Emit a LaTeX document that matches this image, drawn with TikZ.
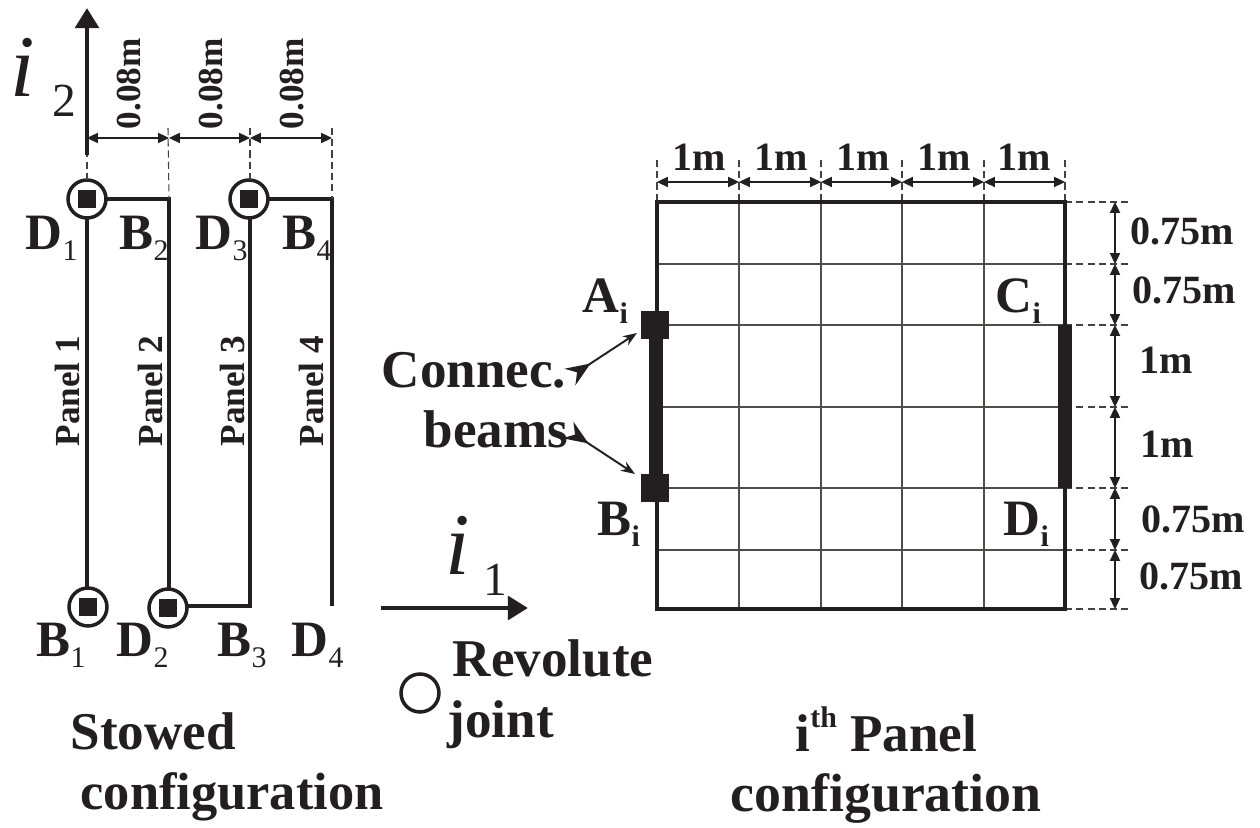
\documentclass[tikz,border=0pt]{standalone}
\usepackage{fontspec}
\setmainfont{Liberation Serif}
\usetikzlibrary{arrows.meta}
\definecolor{ink}{HTML}{231F20}
\newcommand{\sublab}[2]{{\fontsize{14.5}{14.5}\selectfont\bfseries #1}\raisebox{-3.1pt}{\fontsize{8.5}{9}\selectfont #2}}
\tikzset{
	wall/.style={ink,line width=1.2pt},
	gridline/.style={ink!80,line width=.35pt},
	guide/.style={ink!85,line width=.3pt,dash pattern=on 2pt off 1.2pt},
	dim/.style={ink,line width=.35pt,{Triangle[length=3.1pt,width=2.9pt]}-{Triangle[length=3.1pt,width=2.9pt]}},
	axis/.style={ink,line width=1.4pt,-{Triangle[length=5.7pt,width=6.6pt]}},
	callout/.style={ink,line width=.55pt,{Stealth[reversed,length=7pt,width=5.6pt,inset=2.4pt]}-{Stealth[length=4pt,width=3pt]}},
	txt/.style={ink,inner sep=0pt,anchor=base west},
	big/.style={txt,font=\fontsize{15.1}{15.1}\selectfont\bfseries},
	panel/.style={txt,rotate=90,font=\fontsize{10}{10}\selectfont\bfseries},
	gap/.style={txt,rotate=90,font=\fontsize{10}{10}\selectfont\bfseries},
	size/.style={txt,font=\fontsize{11.4}{11.4}\selectfont\bfseries},
	axisname/.style={txt,draw=none,font=\fontsize{25}{25}\selectfont\itshape},
	joint/.style={circle,draw=ink,line width=1pt,minimum size=10.8pt,inner sep=0pt},
	pin/.style={fill=ink,inner sep=0pt,minimum size=#1},
}
\begin{document}
\begin{tikzpicture}[x=0.01cm,y=-0.01cm]
	\useasboundingbox (0,0) rectangle (1260,828);
	% stowed panels
	\foreach \n/\x in {1/87,2/169,3/250,4/332}{
		\coordinate (top\n) at (\x,199);
		\coordinate (bot\n) at (\x,606);
		\coordinate (gap\n) at (\x,138);
	}
	\draw[wall] (top1)--(bot1);
	\draw[wall,line join=miter] (top1)--(top2)--(bot2);
	\draw[wall,line join=miter] (bot2)--(bot3)--(top3);
	\draw[wall,line join=miter] (top3)--(top4)--(bot4);
	\foreach \n/\c in {top1/{87,199},top3/{249,199},bot1/{88,607},bot2/{168,608}}{
		\node[joint,fill=white] (j\n) at (\c) {};
		\node[pin=5.2pt] (p\n) at (\c) {};
	}
	% axes
	\coordinate (o2) at (87,155);
	\coordinate (e2) at (87,8);
	\coordinate (o1) at (381,608);
	\coordinate (e1) at (528,608);
	\draw[axis] (o2)--(e2);
	\draw[axis] (o1)--(e1);
	\node[axisname] (i2) at (10,97) {i};
	\node[txt,font=\fontsize{13.5}{13.5}\selectfont] (n2) at (52,117) {2};
	\node[axisname] (i1) at (445,575) {i};
	\node[txt,font=\fontsize{13.5}{13.5}\selectfont] (n1) at (483,596) {1};
	% gaps between panels
	\coordinate (g1) at (87,180);
	\coordinate (h1) at (87,155);
	\draw[guide] (g1)--(h1);
	\foreach \n/\x in {2/168,4/332}{
		\coordinate (h\n) at (\x,128);
		\draw[guide] (h\n)--(top\n);
	}
	\coordinate (h3) at (250,128);
	\coordinate (g3) at (250,182);
	\draw[guide] (h3)--(g3);
	\foreach \a/\b in {1/2,2/3,3/4}
		\draw[dim] (gap\a)--(gap\b);
	\foreach \n/\x in {1/140,2/222,3/303}
		\node[gap] (w\n) at (\x,130) {0.08m};
	\foreach \n/\x in {1/80,2/162,3/244,4/323}
		\node[panel] (lab\n) at (\x,447) {Panel \n};
	\node[txt] (D1) at (25,250) {\sublab{D}{1}};
	\node[txt] (B2) at (119,250) {\sublab{B}{2}};
	\node[txt] (D3) at (195,250) {\sublab{D}{3}};
	\node[txt] (B4) at (282,250) {\sublab{B}{4}};
	\node[txt] (B1) at (36,657) {\sublab{B}{1}};
	\node[txt] (D2) at (116,657) {\sublab{D}{2}};
	\node[txt] (B3) at (217,657) {\sublab{B}{3}};
	\node[txt] (D4) at (291,657) {\sublab{D}{4}};
	% i-th panel grid
	\foreach \n/\x in {0/657,1/739,2/821,3/902,4/984,5/1065}{
		\coordinate (t\n) at (\x,202);
		\coordinate (u\n) at (\x,609);
		\coordinate (s\n) at (\x,182);
		\coordinate (v\n) at (\x,160);
		\draw[guide] (v\n)--(t\n);
	}
	\foreach \n/\y in {0/202,1/264,2/325,3/407,4/488,5/550,6/609}{
		\coordinate (l\n) at (657,\y);
		\coordinate (r\n) at (1065,\y);
		\coordinate (q\n) at (1130,\y);
		\coordinate (m\n) at (1115,\y);
		\draw[guide] (r\n)--(q\n);
	}
	\foreach \n in {1,...,4}
		\draw[gridline] (t\n)--(u\n);
	\foreach \n in {1,...,5}
		\draw[gridline] (l\n)--(r\n);
	\draw[wall,line width=1.35pt] (t0) rectangle (u5);
	\foreach \a/\b in {0/1,1/2,2/3,3/4,4/5}
		\draw[dim] (s\a)--(s\b);
	\foreach \a/\b in {0/1,1/2,2/3,3/4,4/5,5/6}
		\draw[dim] (m\a)--(m\b);
	% connection beams
	\coordinate (ba) at (656,325);
	\coordinate (bb) at (656,488);
	\draw[ink,line width=4pt] (ba)--(bb);
	\draw[ink,line width=3.8pt] (r2)--(r4);
	\node[pin=8pt] (A) at (655,325) {};
	\node[pin=8pt] (B) at (655,488) {};
	\coordinate (ca) at (570,377);
	\coordinate (cb) at (568,430);
	\coordinate (ea) at (637,333);
	\coordinate (eb) at (635,474);
	\draw[callout] (ca)--(ea);
	\draw[callout] (cb)--(eb);
	\node[txt] (Ai) at (582,313) {\sublab{A}{\bfseries i}};
	\node[txt] (Bi) at (597,536) {\sublab{B}{\bfseries i}};
	\node[txt] (Ci) at (995,313) {\sublab{C}{\bfseries i}};
	\node[txt] (Di) at (1003,536) {\sublab{D}{\bfseries i}};
	% sizes
	\foreach \n/\x in {1/672,2/754,3/836,4/917,5/997}
		\node[size] (x\n) at (\x,171) {1m};
	\node[size] (y1) at (1130,245) {0.75m};
	\node[size] (y2) at (1132,304) {0.75m};
	\node[size] (y3) at (1139,374) {1m};
	\node[size] (y4) at (1140,458) {1m};
	\node[size] (y5) at (1141,533) {0.75m};
	\node[size] (y6) at (1139,590) {0.75m};
	% captions
	\node[big] (con) at (381,388) {Connec.};
	\node[big] (bea) at (423,448) {beams};
	\node[joint] (leg) at (420,693) {};
	\node[big] (rev) at (452,677) {Revolute};
	\node[big] (joi) at (447,738) {joint};
	\node[big] (sto) at (70,750) {Stowed};
	\node[big,font=\fontsize{14.9}{14.9}\selectfont\bfseries] (cf1) at (80,810) {configuration};
	\node[big] (ith) at (795,752) {i\raisebox{7pt}{\fontsize{8.5}{9}\selectfont th} Panel};
	\node[big,font=\fontsize{15.3}{15.3}\selectfont\bfseries] (cf2) at (730,812) {configuration};
\end{tikzpicture}
\end{document}
